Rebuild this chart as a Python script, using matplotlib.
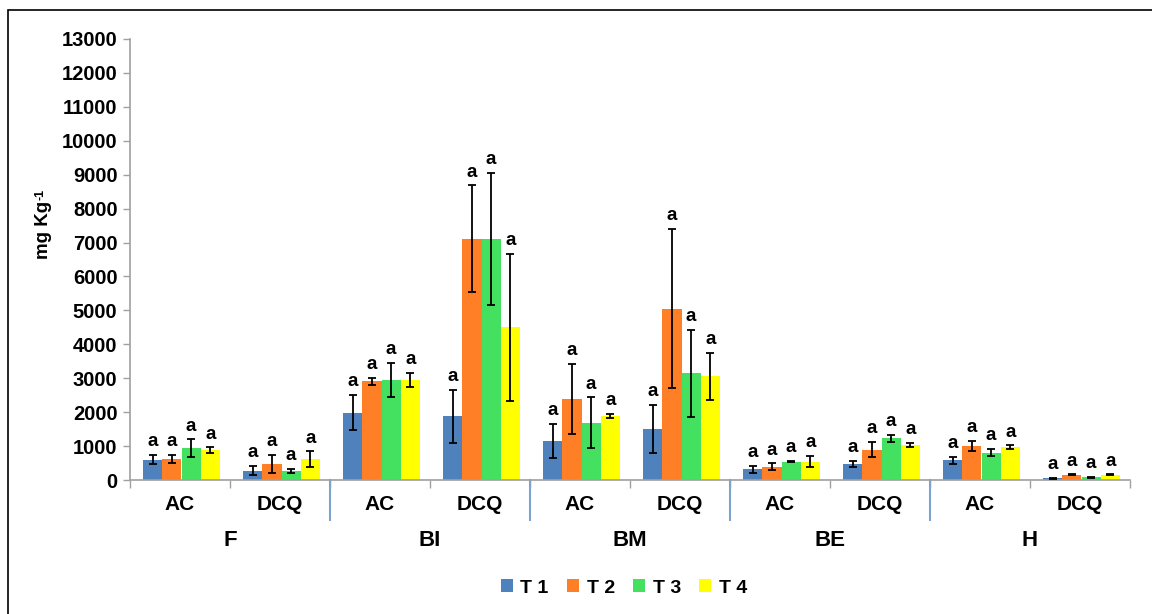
import matplotlib
matplotlib.use("Agg")
import matplotlib.pyplot as plt
import matplotlib.transforms as mtransforms
from matplotlib.patches import Rectangle, Patch
import numpy as np

plt.rcParams['font.family'] = ['Liberation Sans', 'DejaVu Sans']

groups = ["F", "BI", "BM", "BE", "H"]
subcats = ["AC", "DCQ"]
series = ["T 1", "T 2", "T 3", "T 4"]
colors = ["#4F81BD", "#FF7F27", "#44E060", "#FFFF00"]

# values per category in order: F-AC, F-DCQ, BI-AC, BI-DCQ, BM-AC, BM-DCQ, BE-AC, BE-DCQ, H-AC, H-DCQ
t1 = [595, 275, 1985, 1880, 1150, 1500, 315, 470, 580, 50]
t2 = [615, 475, 2910, 7110, 2380, 5050, 390, 890, 1000, 155]
t3 = [930, 270, 2940, 7110, 1690, 3140, 545, 1230, 810, 80]
t4 = [880, 615, 2945, 4500, 1880, 3060, 545, 1040, 965, 155]
e1 = [133, 138, 516, 786, 496, 708, 98, 98, 98, 12]
e2 = [120, 270, 98, 1573, 1036, 2349, 98, 221, 143, 10]
e3 = [265, 64, 500, 1950, 742, 1277, 15, 108, 108, 12]
e4 = [80, 226, 216, 2167, 64, 688, 162, 64, 54, 10]
letters = "a"

vals = [t1, t2, t3, t4]
errs = [e1, e2, e3, e4]

fig = plt.figure(figsize=(11.52, 6.14), dpi=100)
W, H = 1152, 614
ax = fig.add_axes([130 / W, 1 - 480 / H, 1000 / W, 441 / H])

n = len(t1)
x = np.arange(n) + 0.515
bw = 0.193
for k in range(4):
    xs = x + (k - 1.5) * bw
    ax.bar(xs, vals[k], width=bw, color=colors[k], label=series[k], zorder=2)
    ax.errorbar(xs, vals[k], yerr=errs[k], fmt='none', ecolor='black',
                elinewidth=1.3, capsize=3.2, capthick=1.3, zorder=3)
    for xi, v, e in zip(xs, vals[k], errs[k]):
        ax.annotate(letters, (xi, v + e), xytext=(0, 3.5), textcoords='offset points',
                    ha='center', va='bottom', fontsize=13.5, fontweight='bold')

ax.set_xlim(0, n)
ax.set_ylim(0, 13000)
ax.set_yticks(np.arange(0, 13001, 1000))
ax.set_yticklabels([str(v) for v in range(0, 13001, 1000)], fontsize=14.5, fontweight='bold')
ax.set_xticks(np.arange(0, n + 1))
ax.set_xticklabels([])
ax.tick_params(axis='y', length=5, color='#A0A0A0', width=1, pad=4)
ax.tick_params(axis='x', length=6, color='#A0A0A0', width=1)
for s in ['top', 'right']:
    ax.spines[s].set_visible(False)
for s in ['left', 'bottom']:
    ax.spines[s].set_color('#A0A0A0')
    ax.spines[s].set_linewidth(1.2)

trans = mtransforms.blended_transform_factory(ax.transData, ax.transAxes)
for i in range(n):
    ax.text(i + 0.5, -24 / 441, subcats[i % 2], transform=trans, ha='center', va='center',
            fontsize=15, fontweight='bold')
for g, name in enumerate(groups):
    ax.text(2 * g + 1, -60 / 441, name, transform=trans, ha='center', va='center',
            fontsize=16, fontweight='bold')
for g in range(1, len(groups)):
    ax.plot([2 * g, 2 * g], [0, -40 / 441], transform=trans, color='#7FA3CF',
            lw=1.5, clip_on=False)

# y label with superscript
yl = fig.text(44 / W, 1 - 230 / H, "mg Kg", rotation=90, ha='center', va='center',
              fontsize=13.5, fontweight='bold')
fig.canvas.draw()
bb = yl.get_window_extent()
fig.text((bb.x0 - 1) / W, (bb.y1 + 1) / H, "-1", rotation=90, ha='left', va='bottom',
         fontsize=9, fontweight='bold')

handles = [Patch(facecolor=c, edgecolor='none') for c in colors]
fig.legend(handles, series, loc='center', bbox_to_anchor=(624 / W, 1 - 588 / H), ncol=4,
           frameon=False, prop={'weight': 'bold', 'size': 14}, handlelength=0.6,
           handleheight=0.6, handletextpad=0.4, columnspacing=0.95)

fig.patches.append(Rectangle((8 / W, -0.05), 1.1, 1 - 10 / H + 0.05, transform=fig.transFigure,
                             fill=False, edgecolor='black', lw=1.2))

fig.savefig("out.png", dpi=100)
